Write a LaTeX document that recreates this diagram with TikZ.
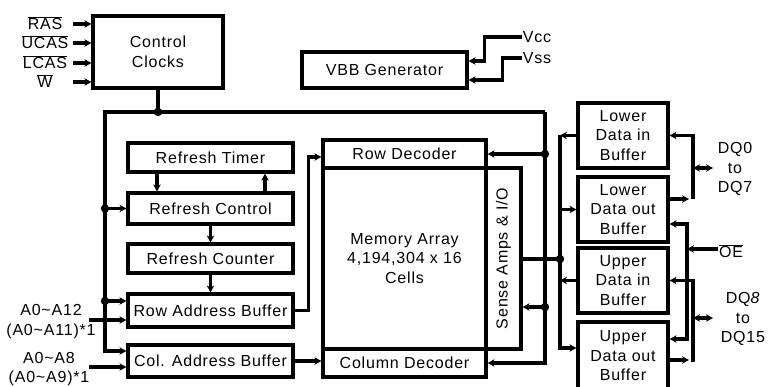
\documentclass[tikz,border=0pt]{standalone}
\usepackage{fontspec}
\setmainfont{Liberation Sans}[LetterSpace=5]
\usepackage{tikz}
\usetikzlibrary{arrows.meta,positioning,calc}

\tikzset{
  blk/.style={draw, line width=3.2pt, inner sep=0pt, align=center,
    font=\fontsize{16}{19.5}\selectfont},
  lbl/.style={inner sep=1pt, align=center, font=\fontsize{16}{19.5}\selectfont},
  wire/.style={line width=3.2pt},
  sig/.style={wire, -{Stealth[length=7pt,width=7.5pt]}},
  both/.style={wire, {Stealth[length=7pt,width=7.5pt]}-{Stealth[length=7pt,width=7.5pt]}}
}

\begin{document}
\begin{tikzpicture}[x=1pt,y=-1pt]
\useasboundingbox (0,0) rectangle (777,387);

% control blocks
\node[blk, minimum width=130pt, minimum height=72pt] (clk) at (158,52) {Control\\Clocks};
\node[blk, minimum width=165pt, minimum height=36pt] (vbb) at (384.5,70) {VBB Generator};

% refresh and address blocks
\node[blk, minimum width=165pt, minimum height=29pt] (rtimer) at (210.5,157.5) {Refresh Timer};
\node[blk, minimum width=165pt, minimum height=31pt] (rctrl) at (210.5,208.5) {Refresh Control};
\node[blk, minimum width=165pt, minimum height=29pt] (rcount) at (210.5,258.5) {Refresh Counter};
\node[blk, minimum width=165pt, minimum height=33pt] (rowbuf) at (210.5,310.5) {Row Address Buffer};
\node[blk, minimum width=165pt, minimum height=32pt] (colbuf) at (210.5,361) {Col. Address Buffer};

% memory core
\node[blk, minimum width=163pt, minimum height=28pt] (rowdec) at (404.5,154) {Row Decoder};
\node[blk, minimum width=163pt, minimum height=181pt] (array) at (404.5,258.5) {Memory Array\\4,194,304 x 16\\Cells};
\node[blk, minimum width=35pt, minimum height=181pt] (sense) at (503.5,258.5) {};
\node[lbl, rotate=90] (senselbl) at (sense.center) {Sense Amps \& I/O};
\node[blk, minimum width=163pt, minimum height=28pt] (coldec) at (404.5,363) {Column Decoder};

% data buffers
\node[blk, minimum width=90pt, minimum height=65pt] (ldin) at (623,135.5) {Lower\\Data in\\Buffer};
\node[blk, minimum width=90pt, minimum height=65pt] (ldout) at (623,209.5) {Lower\\Data out\\Buffer};
\node[blk, minimum width=90pt, minimum height=65pt] (udin) at (623,280.5) {Upper\\Data in\\Buffer};
\node[blk, minimum width=90pt, minimum height=68pt] (udout) at (623,356) {Upper\\Data out\\Buffer};

% control inputs
\coordinate (inx) at (73,0);
\foreach \nm/\txt/\yy in {ras/RAS/23,ucas/UCAS/42,lcas/LCAS/62,wr/W/81}{
  \node[lbl] (\nm) at (45,\yy) {$\overline{\mbox{\txt}}$};
  \draw[sig] ($(\nm -| inx)+(0,1)$) -- ($(\nm -| clk.west)+(0,1)$);
}

% supply
\node[lbl] (vcc) at (537,37) {Vcc};
\node[lbl] (vss) at (537,58) {Vss};
\draw[sig] (vcc.west) -- ++(-37,0) |- ($(vbb.east)+(0,-9)$);
\draw[sig] (vss.west) -- ++(-19,0) |- ($(vbb.east)+(0,10)$);

% address inputs
\node[lbl] (arow) at (51,321.5) {A0\textasciitilde A12\\(A0\textasciitilde A11)*1};
\node[lbl] (acol) at (49,369) {A0\textasciitilde A8\\(A0\textasciitilde A9)*1};
\coordinate (ax) at (89,0);
\coordinate (rowin) at ($(rowbuf.west)+(0,9.5)$);
\coordinate (colin) at ($(colbuf.west)+(0,6)$);
\draw[sig] (rowin -| ax) -- (rowin);
\draw[sig] (colin -| ax) -- (colin);

% clock bus
\coordinate (busL) at (105,112);
\coordinate (busR) at (545,112);
\coordinate (jclk) at (clk.south |- busL);
\coordinate (rowup) at ($(rowbuf.west)+(0,-9.5)$);
\coordinate (senin) at ($(sense.east)+(0,48.5)$);
\coordinate (jrc) at (busL |- rctrl.west);
\coordinate (jrow) at (busL |- rowup);
\coordinate (jdec) at (busR |- rowdec.east);
\coordinate (jsen) at (busR |- senin);
\draw[wire] (clk.south) -- (jclk);
\draw[sig] (busR) -- (busL) |- ($(colbuf.west)+(0,-10)$);
\draw[sig] (busR) |- (coldec.east);
\draw[sig] (jrc) -- (rctrl.west);
\draw[sig] (jrow) -- (rowup);
\draw[sig] (jdec) -- (rowdec.east);
\draw[sig] (jsen) -- (senin);

% refresh path
\draw[sig] ($(rtimer.south)+(-53.5,0)$) -- ($(rctrl.north)+(-53.5,0)$);
\draw[sig] ($(rctrl.north)+(54.5,0)$) -- ($(rtimer.south)+(54.5,0)$);
\draw[sig] (rctrl.south) -- (rcount.north);
\draw[sig] (rcount.south) -- (rowbuf.north);

% address to decoders
\draw[sig] (rowbuf.east) -- ++(14,0) |- ($(rowdec.west)+(0,3)$);
\draw[sig] (colbuf.east) -- (colbuf.east -| coldec.west);

% data bus
\coordinate (dbx) at (560,0);
\coordinate (senout) at ($(sense.east)+(0,0.5)$);
\coordinate (jdat) at (senout -| dbx);
\draw[wire] (senout) -- (jdat);
\draw[sig] (ldin.west) -- (ldin.west -| dbx);
\draw[sig] (ldin.west -| dbx) -- ($(udout.west -| dbx)+(0,-8)$) -- ($(udout.west)+(0,-8)$);
\draw[sig] (ldout.west -| dbx) -- (ldout.west);
\draw[sig] (udin.west) -- (udin.west -| dbx);

% outputs
\coordinate (dqx) at (693,0);
\coordinate (oex) at (687,0);
\coordinate (ldq) at ($(ldout.east)+(0,-10.5)$);
\coordinate (udq) at ($(udout.east)+(0,4)$);
\draw[sig] (ldq -| dqx) -- (ldin.east -| dqx) -- (ldin.east);
\draw[sig] (ldq) -- ($(ldq -| dqx)+(-4,0)$);
\draw[sig] ($(udq -| dqx)+(0,2)$) -- (udin.east -| dqx) -- (udin.east);
\draw[sig] (udq) -- ($(udq -| dqx)+(-4,0)$);
\node[lbl] (dqlo) at (735,169) {DQ0\\to\\DQ7};
\node[lbl] (dqhi) at (743,319) {DQ\textit{8}\\to\\DQ15};
\draw[both] ($(dqlo.west -| dqx)+(0,-1)$) -- ++(20,0);
\draw[both] ($(dqhi.west -| dqx)+(0,-1)$) -- ++(20,0);

% output enable
\node[lbl] (oe) at (731,251) {$\overline{\mbox{OE}}$};
\coordinate (oetop) at ($(ldout.east)+(0,14.5)$);
\coordinate (oebot) at ($(udout.east)+(0,-17)$);
\draw[both] (oetop) -- (oetop -| oex) -- (oebot -| oex) -- (oebot);
\draw[sig] ($(oe.west)+(0,-2)$) -- ($(oe.west -| oex)+(0,-2)$);

% junction dots
\foreach \p in {jclk,jrc,jrow,jdec,jsen,jdat}
  \fill (\p) circle (4.2pt);
\end{tikzpicture}
\end{document}
